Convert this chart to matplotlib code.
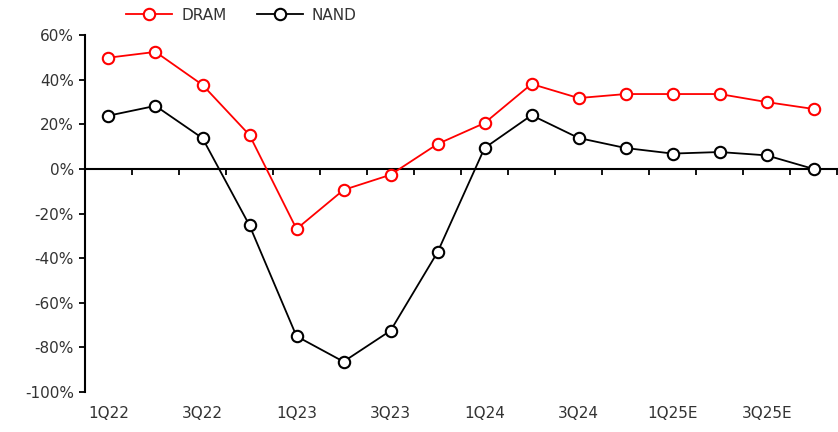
import matplotlib
matplotlib.use("Agg")
import matplotlib.pyplot as plt
from matplotlib.ticker import FuncFormatter

plt.rcParams['font.family'] = ['DejaVu Sans']

quarters = ['1Q22', '2Q22', '3Q22', '4Q22', '1Q23', '2Q23', '3Q23', '4Q23',
            '1Q24', '2Q24', '3Q24', '4Q24', '1Q25E', '2Q25E', '3Q25E', '4Q25E']
dram = [49.9, 52.5, 37.7, 15.2, -26.9, -9.4, -2.6, 11.2,
        20.6, 38.1, 31.8, 33.6, 33.6, 33.6, 30.0, 26.9]
nand = [23.9, 28.3, 13.8, -25.3, -75.0, -86.4, -72.5, -37.3,
        9.4, 24.1, 13.9, 9.4, 6.9, 7.6, 6.1, 0.0]

text_color = '#333333'
x = list(range(len(quarters)))

fig = plt.figure(figsize=(8.38, 4.32), dpi=100)
ax = fig.add_axes([0.1014, 0.0926, 0.8976, 0.826])

ax.plot(x, dram, color='#ff0000', lw=1.3, marker='o', markersize=8.2,
        markerfacecolor='white', markeredgewidth=1.5, label='DRAM', zorder=3)
ax.plot(x, nand, color='black', lw=1.3, marker='o', markersize=8.2,
        markerfacecolor='white', markeredgewidth=1.5, label='NAND', zorder=3)

ax.set_xlim(-0.5, 15.5)
ax.set_ylim(-100, 60)
ax.set_yticks(range(-100, 61, 20))
ax.yaxis.set_major_formatter(FuncFormatter(lambda v, p: f'{v:.0f}%'))
ax.tick_params(axis='y', direction='out', length=4, width=1.3, labelsize=11,
               labelcolor=text_color, pad=4)

# category labels every other quarter, along the bottom
ax.set_xticks(x[::2])
ax.set_xticklabels(quarters[::2])
ax.tick_params(axis='x', length=0, labelsize=11, labelcolor=text_color, pad=10)

for s in ['top', 'right', 'bottom']:
    ax.spines[s].set_visible(False)
ax.spines['left'].set_linewidth(1.5)

# zero line with ticks between categories
zero_loc = (0 - (-100)) / 160
sec = ax.secondary_xaxis(zero_loc)
sec.set_xticks([i + 0.5 for i in range(len(quarters))])
sec.set_xticklabels([])
sec.tick_params(direction='in', length=4, width=1.3)
sec.spines['bottom'].set_linewidth(1.5)
sec.spines['top'].set_linewidth(1.5)

leg = fig.legend(loc='center', bbox_to_anchor=(0.288, 0.965), ncol=2, frameon=False,
                 fontsize=11, handlelength=3.0, columnspacing=2.0, handletextpad=0.6)
for t in leg.get_texts():
    t.set_color(text_color)

fig.savefig('out.png', dpi=100)
